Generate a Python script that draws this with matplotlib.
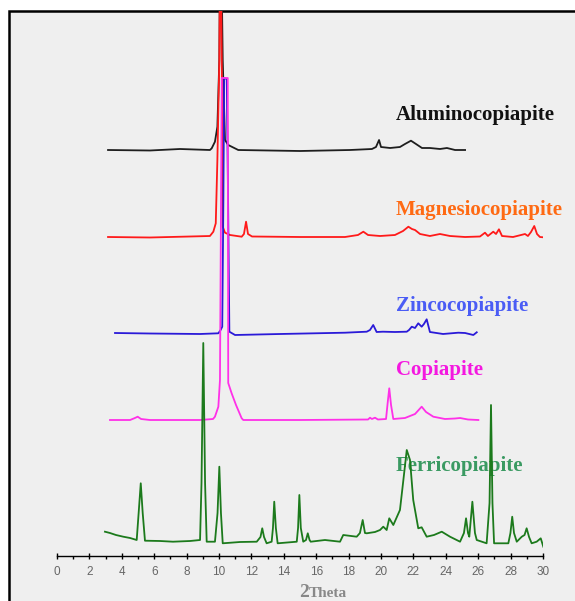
import matplotlib
matplotlib.use("Agg")
import matplotlib.pyplot as plt
from matplotlib.patches import Rectangle
from matplotlib.ticker import MultipleLocator

# ---------------- data (2Theta in degrees, intensity in arbitrary units) ----------------
names = ["Aluminocopiapite", "Magnesiocopiapite", "Zincocopiapite", "Copiapite", "Ferricopiapite"]

alu_tt = [3.15, 5.74, 7.59, 9.44, 9.55, 9.75, 9.90, 10.02, 10.09, 10.23, 10.37, 10.57, 11.19,
          15.0, 18.09, 19.44, 19.69, 19.88, 20.0, 20.56, 21.17, 21.48, 21.85, 22.16, 22.53,
          23.02, 23.64, 24.07, 24.57, 25.19]
alu_int = [0, -0.5, 1, 0, 1.7, 8.3, 23.3, 90, 260, 90, 10, 5, 0,
           -1, 0, 1, 3, 10, 3, 2, 3, 6, 9.3, 6, 2,
           2, 1, 2, 0, 0]

mag_tt = [3.15, 5.74, 8.21, 9.44, 9.65, 9.80, 9.90, 10.02, 10.08, 10.17, 10.23, 10.37, 10.68,
          11.40, 11.54, 11.67, 11.79, 12.04, 15.0, 17.78, 18.58, 18.91, 19.20, 19.94, 20.86,
          21.36, 21.69, 21.91, 22.10, 22.41, 23.02, 23.64, 24.26, 25.19, 26.11, 26.42, 26.60,
          26.93, 27.10, 27.28, 27.47, 28.15, 28.89, 29.07, 29.26, 29.46, 29.63, 29.81, 30.02]
mag_int = [0, -0.5, 0.5, 1, 5.3, 13.7, 77, 177, 330, 177, 10.3, 4.3, 2,
           0.3, 3, 15.3, 3, 0.5, 0, 0, 2, 5.3, 2, 1, 2,
           6, 10.3, 8, 7, 3, 1, 3, 1, 0, 0.5, 4.3, 1,
           5.3, 3, 7.7, 1, 0, 3, 1, 5, 11, 3, 0, -0.3]

zinc_tt = [3.58, 5.74, 8.83, 9.96, 10.10, 10.20, 10.27, 10.32, 10.48, 10.56, 10.64, 10.99,
           13.77, 17.78, 18.70, 19.12, 19.32, 19.52, 19.73, 20.12, 20.86, 21.59, 21.73, 21.90,
           22.10, 22.30, 22.51, 22.65, 22.82, 23.02, 23.83, 24.77, 25.19, 25.70, 25.91]
zinc_int = [0, -0.5, -1, -0.3, 3, 6.3, 133, 255, 254, 133, 1.3, -2,
            -1, 0.3, 1, 1.3, 3, 8, 1, 1.3, 1, 1.3, 3, 6.3,
            5, 9.7, 6.3, 9, 13.7, 1, -1, 0.3, 0, -2, 0.7]

cop_tt = [3.27, 4.51, 4.81, 4.98, 5.19, 5.74, 8.83, 9.63, 9.75, 9.96, 10.06, 10.17, 10.54,
          10.57, 10.78, 11.05, 11.40, 11.50, 15.0, 19.20, 19.32, 19.44, 19.63, 19.81, 20.31,
          20.43, 20.51, 20.62, 20.76, 21.48, 22.10, 22.51, 22.78, 23.23, 23.95, 24.57, 24.88,
          25.37, 26.01]
cop_int = [0, 0, 2, 3.3, 1, 0, 0, 1, 3.3, 13.3, 40, 342, 342,
           37, 26.7, 15, 1.7, 0, 0, 0.5, 2.3, 1, 2.3, 0.5, 1,
           20, 31.7, 15, 1, 2, 6, 13.3, 8, 3.3, 1, 1.5, 2,
           0.5, 0]

fer_tt = [2.96, 3.27, 3.64, 4.09, 4.51, 4.92, 5.04, 5.17, 5.29, 5.43, 6.36, 7.16, 8.21, 8.83,
          8.92, 9.03, 9.14, 9.24, 9.75, 9.91, 10.02, 10.12, 10.23, 11.30, 12.33, 12.56, 12.67,
          12.78, 12.94, 13.25, 13.33, 13.41, 13.51, 13.62, 14.80, 14.88, 14.96, 15.05, 15.20,
          15.37, 15.48, 15.59, 15.66, 16.54, 17.47, 17.67, 18.50, 18.70, 18.87, 19.01, 19.12,
          19.63, 19.94, 20.14, 20.35, 20.51, 20.76, 21.17, 21.36, 21.59, 21.79, 21.99, 22.30,
          22.51, 22.82, 23.27, 23.75, 24.26, 24.88, 25.12, 25.25, 25.37, 25.45, 25.64, 25.80,
          25.91, 26.52, 26.70, 26.79, 26.88, 26.98, 27.86, 27.99, 28.10, 28.21, 28.38, 28.69,
          28.86, 28.99, 29.14, 29.30, 29.61, 29.86, 30.02]
fer_int = [11.3, 10, 8, 6.3, 5, 3, 30, 59.7, 30, 2.3, 2, 1.3, 2, 3,
           60, 200, 60, 1.3, 1.3, 30, 76.3, 30, -0.3, 1, 1.3, 6, 14.7,
           6, -0.3, 1.3, 15, 41.3, 15, -0.3, 1.3, 15, 48, 15, 1.3,
           3, 9.7, 3, 1.3, 3, 1.3, 8, 6.3, 10, 23, 10, 9.7,
           11, 13, 16.3, 13, 24.7, 18, 33, 60, 93, 83, 43, 14.7,
           15.7, 6.3, 8, 11.3, 6.3, 1.3, 10, 24.7, 10, 6.3, 41.3, 10,
           3, -0.3, 40, 138, 40, -0.3, -0.3, 10, 26.3, 10, 1.3, 6.3,
           8, 14.7, 6, -0.3, 1.3, 4.7, -3.7]

x_ticks = list(range(0, 31, 2))
x_label = "2Theta"

# ---------------- styling / layout ----------------
W, H = 575, 601
fig = plt.figure(figsize=(W / 100, H / 100), dpi=100, facecolor="white")

# panel frame (drawn behind the axes)
frame = Rectangle((8.5 / W, -0.2), 1.5, 1 - 11 / H + 0.2, transform=fig.transFigure,
                  facecolor="#efefef", edgecolor="black", lw=1.8, zorder=-10)
fig.patches.append(frame)

ax = fig.add_axes([57 / W, 1 - 556 / H, 486 / W, 545 / H])
ax.set_zorder(5)
ax.set_facecolor("none")
ax.set_xlim(0, 30)
ax.set_ylim(0, 545)

offsets = [406, 319, 223, 136, 13]
line_colors = ["#1e1e1e", "#ff1a1a", "#2a1ad8", "#ff30e8", "#1c7a1c"]
label_colors = ["#111111", "#ff6a13", "#4a5cf5", "#f418e0", "#3a9a62"]
series = [(alu_tt, alu_int), (mag_tt, mag_int), (zinc_tt, zinc_int), (cop_tt, cop_int), (fer_tt, fer_int)]

for (tt, inten), off, c in zip(series, offsets, line_colors):
    ax.plot(tt, [v + off for v in inten], color=c, lw=1.3, solid_joinstyle="round")

label_baselines = [120, 215, 311.5, 375, 471.5]
for name, yb, c in zip(names, label_baselines, label_colors):
    fig.text(396 / W, 1 - yb / H, name, color=c, fontsize=15, fontweight="bold",
             family="Liberation Serif", ha="left", va="baseline", zorder=1)

for s in ["top", "right", "left"]:
    ax.spines[s].set_visible(False)
ax.spines["bottom"].set_linewidth(1.0)
ax.set_yticks([])
ax.set_xticks(x_ticks)
ax.set_xticklabels([str(t) for t in x_ticks])
ax.xaxis.set_minor_locator(MultipleLocator(1))
ax.tick_params(axis="x", which="major", direction="inout", length=5, width=1,
               labelsize=8.5, labelcolor="#666666", pad=5)
ax.tick_params(axis="x", which="minor", direction="out", length=2.5, width=1)
for lab in ax.get_xticklabels():
    lab.set_family("Liberation Sans")

fig.text(309 / W, 1 - 597 / H, x_label[0], color="#888888", fontsize=14, fontweight="bold",
         family="Liberation Serif", ha="right", va="baseline")
fig.text(309 / W, 1 - 597 / H, x_label[1:], color="#888888", fontsize=11, fontweight="bold",
         family="Liberation Serif", ha="left", va="baseline")

fig.savefig("out.png", dpi=100, facecolor="white")
